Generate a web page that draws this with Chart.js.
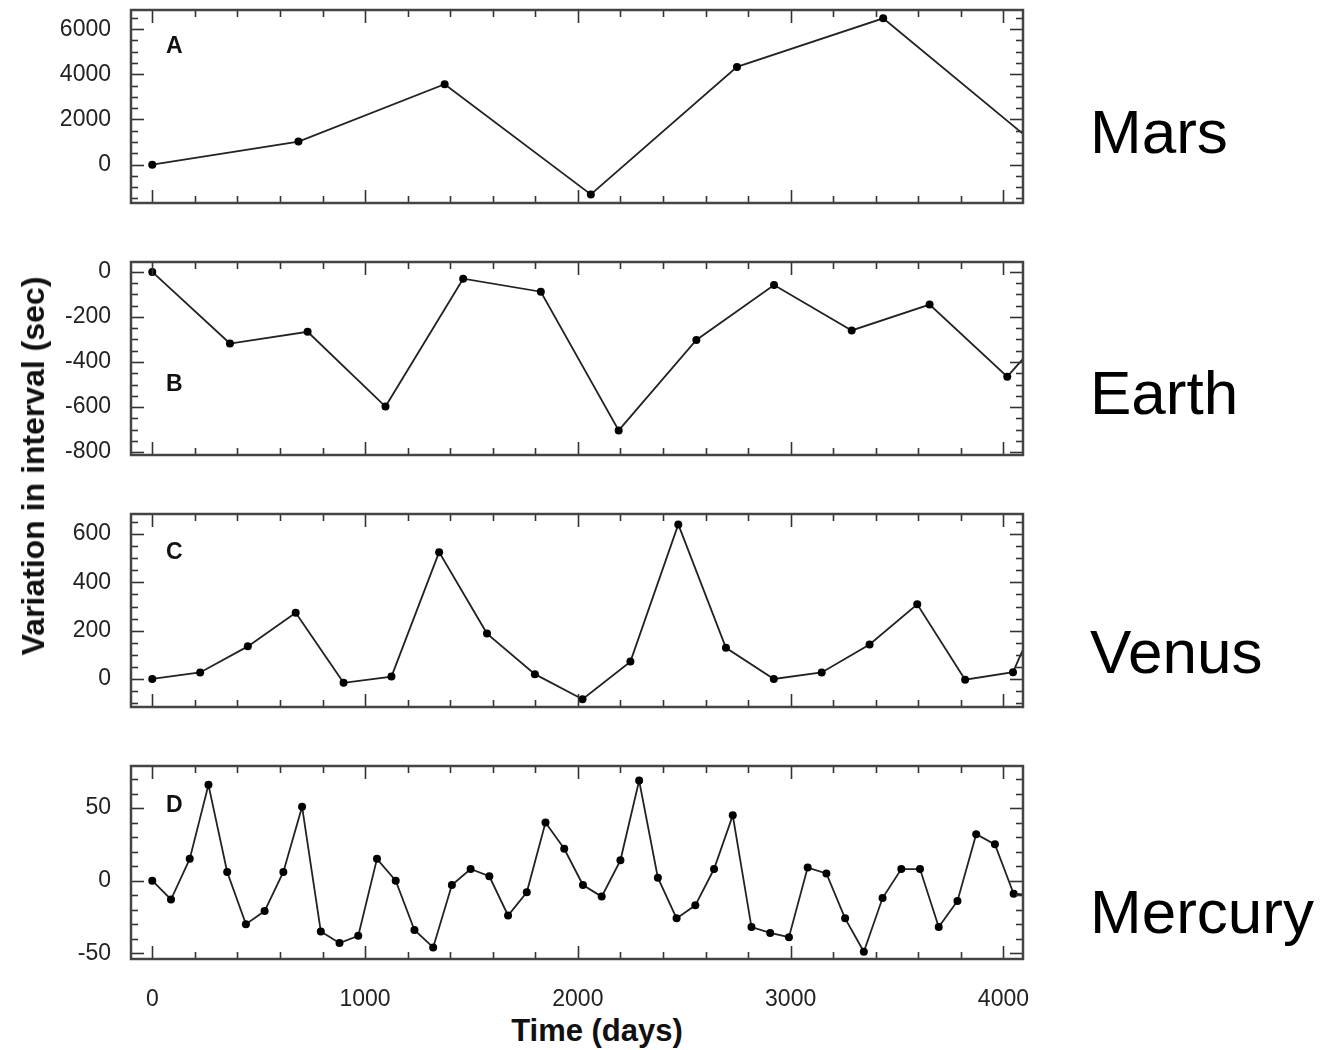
<!DOCTYPE html>
<html>
<head>
<meta charset="utf-8">
<title>Variation in interval</title>
<script src="https://cdn.jsdelivr.net/npm/chart.js"></script>
<style>
  body { margin: 0; background: #fff; width: 1323px; height: 1050px; position: relative; overflow: hidden;
         font-family: "Liberation Sans", Arial, sans-serif; color: #111; }
  .panel { position: absolute; left: 0; width: 1040px; }
  .letter { position: absolute; left: 166px; font-weight: bold; font-size: 23px; line-height: 23px; }
  .planet { position: absolute; left: 1090px; font-size: 62px; line-height: 62px; color: #000; }
  #ytitle { position: absolute; left: 33px; top: 466px; font-weight: bold; font-size: 32px; line-height: 32px;
            white-space: nowrap; transform: translate(-50%, -50%) rotate(-90deg); }
  #xtitle { position: absolute; left: 597px; top: 1015px; font-weight: bold; font-size: 31px; line-height: 31px;
            white-space: nowrap; transform: translateX(-50%); }
</style>
</head>
<body>

<div class="panel" style="top:0px;height:213px"><canvas id="marsChart"></canvas></div>
<div class="panel" style="top:252px;height:213px"><canvas id="earthChart"></canvas></div>
<div class="panel" style="top:504px;height:213px"><canvas id="venusChart"></canvas></div>
<div class="panel" style="top:756px;height:253px"><canvas id="mercuryChart"></canvas></div>

<div class="letter" style="top:34px">A</div>
<div class="letter" style="top:372px">B</div>
<div class="letter" style="top:540px">C</div>
<div class="letter" style="top:793px">D</div>

<div class="planet" style="top:101px">Mars</div>
<div class="planet" style="top:362px">Earth</div>
<div class="planet" style="top:621px">Venus</div>
<div class="planet" style="top:881px">Mercury</div>

<div id="ytitle">Variation in interval (sec)</div>
<div id="xtitle">Time (days)</div>

<script>
// time axis (days)
const xTicks = [0, 1000, 2000, 3000, 4000];

// Mars
const marsDays = [0, 687, 1374, 2061, 2748, 3435, 4122];
const marsVar = [0, 1020, 3560, -1320, 4330, 6480, 1130];
const marsTicks = [0, 2000, 4000, 6000];

// Earth
const earthDays = [0, 365, 730, 1096, 1461, 1826, 2192, 2557, 2922, 3287, 3653, 4018, 4383];
const earthVar = [0, -318, -266, -598, -30, -88, -704, -302, -58, -260, -145, -465, -75];
const earthTicks = [-800, -600, -400, -200, 0];

// Venus
const venusDays = [0, 225, 449, 674, 899, 1124, 1348, 1573, 1798, 2022, 2247, 2472, 2696, 2921, 3146, 3371, 3595, 3820, 4045, 4270];
const venusVar = [0, 27, 135, 274, -16, 10, 525, 188, 20, -84, 72, 640, 129, 0, 27, 143, 309, -3, 28, 480];
const venusTicks = [0, 200, 400, 600];

// Mercury
const mercuryDays = [0, 88, 176, 264, 352, 440, 528, 616, 704, 792, 880, 968, 1056, 1144, 1232, 1320,
  1408, 1496, 1584, 1672, 1760, 1848, 1936, 2024, 2112, 2200, 2288, 2376, 2464, 2552, 2640, 2728,
  2816, 2904, 2992, 3080, 3168, 3256, 3344, 3432, 3520, 3608, 3696, 3784, 3872, 3960, 4048, 4136];
const mercuryVar = [0, -13, 15, 66, 6, -30, -21, 6, 51, -35, -43, -38, 15, 0, -34, -46,
  -3, 8, 3, -24, -8, 40, 22, -3, -11, 14, 69, 2, -26, -17, 8, 45,
  -32, -36, -39, 9, 5, -26, -49, -12, 8, 8, -32, -14, 32, 25, -9, -10];
const mercuryTicks = [-50, 0, 50];

// inward ticks on all four sides + frame
const frameTicks = {
  id: 'frameTicks',
  afterDatasetsDraw(chart, args, opts) {
    const { ctx, chartArea: a, scales: { x, y } } = chart;
    const isMajor = (v, step) => Math.abs(v / step - Math.round(v / step)) < 1e-6;
    const seg = (x1, y1, x2, y2) => { ctx.beginPath(); ctx.moveTo(x1, y1); ctx.lineTo(x2, y2); ctx.stroke(); };
    ctx.save();
    ctx.strokeStyle = '#333';
    ctx.lineWidth = 1.6;
    for (let v = Math.ceil(x.min / opts.xMinor) * opts.xMinor; v <= x.max; v += opts.xMinor) {
      const px = Math.round(x.getPixelForValue(v)) + 0.5;
      const len = isMajor(v, opts.xMajor) ? 13 : 7;
      seg(px, a.top, px, a.top + len);
      seg(px, a.bottom, px, a.bottom - len);
    }
    for (let v = Math.ceil(y.min / opts.yMinor) * opts.yMinor; v <= y.max; v += opts.yMinor) {
      const py = Math.round(y.getPixelForValue(v)) + 0.5;
      const len = isMajor(v, opts.yMajor) ? 13 : 7;
      seg(a.left, py, a.left + len, py);
      seg(a.right, py, a.right - len, py);
    }
    ctx.strokeStyle = '#444';
    ctx.lineWidth = 2.5;
    ctx.strokeRect(a.left, a.top, a.right - a.left, a.bottom - a.top);
    ctx.restore();
  }
};

const tickFont = { family: "'Liberation Sans', Arial, sans-serif", size: 23 };

function makePanel(id, days, vals, yTicks, yMin, yMax, yMinor, yMajor, showX) {
  const ctx = document.getElementById(id).getContext('2d');
  return new Chart(ctx, {
    type: 'line',
    data: {
      datasets: [{
        data: days.map((d, i) => ({ x: d, y: vals[i] })),
        borderColor: '#222',
        borderWidth: 1.8,
        pointRadius: 4,
        pointBackgroundColor: '#000',
        pointBorderWidth: 0,
        tension: 0
      }]
    },
    options: {
      responsive: true,
      maintainAspectRatio: false,
      animation: false,
      events: [],
      layout: { autoPadding: false, padding: { left: 0, right: 17, top: 10, bottom: showX ? 0 : 10 } },
      plugins: {
        legend: { display: false },
        tooltip: { enabled: false },
        frameTicks: { xMinor: 200, xMajor: 1000, yMinor: yMinor, yMajor: yMajor }
      },
      scales: {
        x: {
          type: 'linear',
          min: -100,
          max: 4092,
          display: showX,
          grid: { display: false },
          border: { display: false },
          afterBuildTicks: s => { s.ticks = xTicks.map(v => ({ value: v })); },
          afterFit: s => {
            s.height = showX ? 50 : 0;
            s.paddingLeft = 0; s.paddingRight = 0;
          },
          ticks: { font: tickFont, color: '#222', padding: 19, maxRotation: 0, autoSkip: false,
                   callback: v => String(v) }
        },
        y: {
          min: yMin,
          max: yMax,
          grid: { display: false },
          border: { display: false },
          afterBuildTicks: s => { s.ticks = yTicks.map(v => ({ value: v })); },
          afterFit: s => {
            s.width = 131;
            s.paddingTop = 0; s.paddingBottom = 0;
          },
          ticks: { font: tickFont, color: '#222', padding: 12, callback: v => String(v) }
        }
      }
    },
    plugins: [frameTicks]
  });
}

makePanel('marsChart', marsDays, marsVar, marsTicks, -1700, 6850, 500, 2000, false);
makePanel('earthChart', earthDays, earthVar, earthTicks, -813, 44, 50, 200, false);
makePanel('venusChart', venusDays, venusVar, venusTicks, -116, 683, 50, 200, false);
makePanel('mercuryChart', mercuryDays, mercuryVar, mercuryTicks, -54, 79, 10, 50, true);
</script>
</body>
</html>
